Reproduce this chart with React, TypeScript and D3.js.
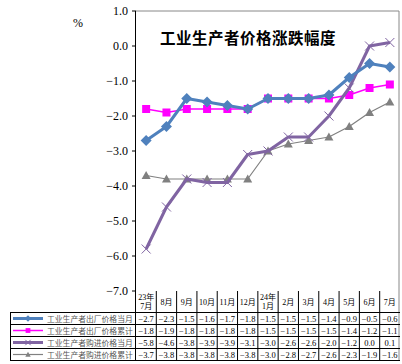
import * as d3 from "d3";

const months = ["23年\n7月", "8月", "9月", "10月", "11月", "12月", "24年\n1月", "2月", "3月", "4月", "5月", "6月", "7月"];
const ppiMonth = [-2.7, -2.3, -1.5, -1.6, -1.7, -1.8, -1.5, -1.5, -1.5, -1.4, -0.9, -0.5, -0.6];
const ppiCum = [-1.8, -1.9, -1.8, -1.8, -1.8, -1.8, -1.5, -1.5, -1.5, -1.5, -1.4, -1.2, -1.1];
const pirmMonth = [-5.8, -4.6, -3.8, -3.9, -3.9, -3.1, -3.0, -2.6, -2.6, -2.0, -1.2, 0.0, 0.1];
const pirmCum = [-3.7, -3.8, -3.8, -3.8, -3.8, -3.8, -3.0, -2.8, -2.7, -2.6, -2.3, -1.9, -1.6];
const yTicks = [1, 0, -1, -2, -3, -4, -5, -6, -7];

const seriesList = [
  { name: "工业生产者出厂价格当月", values: ppiMonth, color: "#4f81bd", width: 3, marker: "diamond" },
  { name: "工业生产者出厂价格累计", values: ppiCum, color: "#ff00ff", width: 1.5, marker: "square" },
  { name: "工业生产者购进价格当月", values: pirmMonth, color: "#8064a2", width: 3, marker: "x" },
  { name: "工业生产者购进价格累计", values: pirmCum, color: "#808080", width: 1.2, marker: "triangle" },
];

const serif = "'Liberation Serif', 'Noto Sans CJK SC', serif";

function Marker({ type, x, y, color, s = 1 }: { type: string; x: number; y: number; color: string; s?: number }) {
  if (type === "diamond") {
    const r = 5.5 * s;
    return <path d={`M${x},${y - r}L${x + r},${y}L${x},${y + r}L${x - r},${y}Z`} fill={color} />;
  }
  if (type === "square") {
    const r = 4 * s;
    return <rect x={x - r} y={y - r} width={2 * r} height={2 * r} fill={color} />;
  }
  if (type === "x") {
    const r = 4.5 * s;
    return (
      <path d={`M${x - r},${y - r}L${x + r},${y + r}M${x - r},${y + r}L${x + r},${y - r}`} stroke={color} strokeWidth={1} />
    );
  }
  const r = 4.5 * s;
  return <path d={`M${x},${y - r}L${x + r},${y + r * 0.8}L${x - r},${y + r * 0.8}Z`} fill={color} />;
}

export default function App() {
  const width = 402;
  const height = 364;
  const left = 136;
  const right = 400;
  const top = 11;
  const bottom = 291;

  const x = d3.scaleBand<string>().domain(months).range([left, right]);
  const y = d3.scaleLinear().domain([-7, 1]).range([bottom, top]);
  const cx = (i: number) => (x(months[i]) as number) + x.bandwidth() / 2;

  const line = d3
    .line<number>()
    .x((_, i) => cx(i))
    .y((d) => y(d));

  const headerBottom = 312.5;
  const rowH = 12;
  const tableBottom = headerBottom + rowH * 4;

  return (
    <svg
      width={width}
      height={height}
      style={{ position: "absolute", left: 0, top: 0, display: "block", background: "#fff" }}
    >
      {/* plot frame */}
      <line x1={left} x2={right - 1} y1={top} y2={top} stroke="#888" strokeWidth={1} />
      <line x1={right - 1} x2={right - 1} y1={top} y2={tableBottom} stroke="#888" strokeWidth={1} />
      <line x1={left - 0.5} x2={left - 0.5} y1={top} y2={tableBottom} stroke="#000" strokeWidth={1} />

      {yTicks.map((t) => (
        <g key={t}>
          <line x1={left - 4} x2={left} y1={y(t)} y2={y(t)} stroke="#000" />
          <text x={128} y={y(t) + 4} textAnchor="end" fontFamily={serif} fontSize={12} fill="#000">
            {d3.format(".1f")(t)}
          </text>
        </g>
      ))}
      <text x={78} y={27} textAnchor="middle" fontFamily={serif} fontSize={12}>%</text>

      <text x={160} y={44} fontFamily="'Noto Sans CJK SC', sans-serif" fontWeight="bold" fontSize={15.5} letterSpacing={0.5}>
        工业生产者价格涨跌幅度
      </text>

      {/* series: cumulative first so monthly sit on top */}
      {[3, 1, 2, 0].map((k) => {
        const s = seriesList[k];
        return (
          <g key={s.name}>
            <path d={line(s.values) || ""} fill="none" stroke={s.color} strokeWidth={s.width} strokeLinejoin="round" />
            {s.values.map((v, i) => (
              <Marker key={i} type={s.marker} x={cx(i)} y={y(v)} color={s.color} />
            ))}
          </g>
        );
      })}

      {/* data table */}
      <line x1={10} x2={right} y1={headerBottom} y2={headerBottom} stroke="#000" />
      {seriesList.map((s, r) => (
        <line key={r} x1={10} x2={right} y1={headerBottom + rowH * (r + 1)} y2={headerBottom + rowH * (r + 1)} stroke="#000" />
      ))}
      <line x1={10.5} x2={10.5} y1={headerBottom} y2={tableBottom} stroke="#000" />
      {months.map((m, i) => {
        const x0 = x(m) as number;
        const lines = m.split("\n");
        return (
          <g key={m}>
            {i > 0 && <line x1={x0} x2={x0} y1={bottom} y2={tableBottom} stroke="#000" />}
            {lines.map((l, j) => (
              <text
                key={j}
                x={cx(i)}
                y={lines.length === 1 ? 305 : 300 + j * 9}
                textAnchor="middle"
                fontFamily={serif}
                fontSize={8}
              >
                {l}
              </text>
            ))}
          </g>
        );
      })}
      {seriesList.map((s, r) => {
        const ry = headerBottom + rowH * r + rowH / 2;
        return (
          <g key={s.name}>
            <line x1={13} x2={43} y1={ry} y2={ry} stroke={s.color} strokeWidth={s.width} />
            <Marker type={s.marker} x={28} y={ry} color={s.color} s={0.6} />
            <text x={47} y={ry + 3} fontFamily={serif} fontSize={7.8} fill="#555">
              {s.name}
            </text>
            {s.values.map((v, i) => (
              <text key={i} x={cx(i)} y={ry + 3} textAnchor="middle" fontFamily={serif} fontSize={8.5}>
                {d3.format(".1f")(v)}
              </text>
            ))}
          </g>
        );
      })}
    </svg>
  );
}
